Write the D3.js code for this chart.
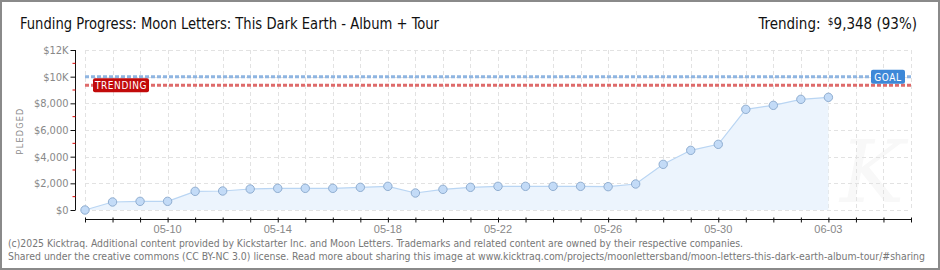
<!DOCTYPE html>
<html>
<head>
<meta charset="utf-8">
<script src="https://cdn.jsdelivr.net/npm/d3@7"></script>
<style>
  html, body { margin: 0; padding: 0; background: #fff; }
  svg { display: block; font-family: "DejaVu Sans Condensed", "DejaVu Sans", sans-serif; }
</style>
</head>
<body>
<div id="chart"></div>
<script>
// data
var days = ["2025-05-07","2025-05-08","2025-05-09","2025-05-10","2025-05-11","2025-05-12",
    "2025-05-13","2025-05-14","2025-05-15","2025-05-16","2025-05-17","2025-05-18","2025-05-19",
    "2025-05-20","2025-05-21","2025-05-22","2025-05-23","2025-05-24","2025-05-25","2025-05-26",
    "2025-05-27","2025-05-28","2025-05-29","2025-05-30","2025-05-31","2025-06-01","2025-06-02",
    "2025-06-03"];
var pledged = [0, 600, 650, 650, 1400, 1425, 1575, 1625, 1625, 1625, 1700, 1775, 1275,
    1550, 1700, 1775, 1775, 1775, 1775, 1750, 1950, 3425, 4475, 4925, 7550, 7850, 8300, 8450];
var goal = 10000;
var trending = 9348;
var yTicks = [0, 2000, 4000, 6000, 8000, 10000, 12000];
var yTickLabels = ["$0", "$2,000", "$4,000", "$6,000", "$8,000", "$10K", "$12K"];
var xDomain = ["2025-05-07", "2025-06-06"];

var W = 940, H = 270;
var m = { left: 85, right: 911, top: 50, bottom: 210 };
var parse = d3.utcParse("%Y-%m-%d");
var data = days.map(function (d, i) { return { date: parse(d), value: pledged[i] }; });

var x = d3.scaleUtc().domain(xDomain.map(parse)).range([m.left, m.right]);
var y = d3.scaleLinear().domain([0, 12000]).range([m.bottom, m.top]);

var svg = d3.select("#chart").append("svg").attr("width", W).attr("height", H);

// frame
svg.append("rect").attr("x", 1).attr("y", 1).attr("width", W - 2).attr("height", H - 2)
    .attr("fill", "#fff").attr("stroke", "#8a8a8a").attr("stroke-width", 2);

// watermark
svg.append("text").attr("x", 872).attr("y", 202).attr("text-anchor", "middle")
    .attr("font-family", "DejaVu Serif").attr("font-style", "italic")
    .attr("font-size", 86).attr("fill", "#f8f8f8").text("K");

// grid
var allDays = d3.utcDay.range(parse(xDomain[0]), d3.utcDay.offset(parse(xDomain[1]), 1));
var grid = svg.append("g").attr("stroke", "#e2e2e2").attr("stroke-dasharray", "4,3");
grid.selectAll("line.h").data(yTicks).join("line")
    .attr("x1", m.left).attr("x2", m.right)
    .attr("y1", function (d) { return Math.round(y(d)) + 0.5; })
    .attr("y2", function (d) { return Math.round(y(d)) + 0.5; });
grid.selectAll("line.v").data(allDays).join("line")
    .attr("x1", function (d) { return Math.round(x(d)) + 0.5; })
    .attr("x2", function (d) { return Math.round(x(d)) + 0.5; })
    .attr("y1", m.top).attr("y2", m.bottom);

// area + line
svg.append("path").datum(data)
    .attr("fill", "#ecf4fd")
    .attr("d", d3.area().x(function (d) { return x(d.date); }).y0(y(0)).y1(function (d) { return y(d.value); }));
svg.append("path").datum(data)
    .attr("fill", "none").attr("stroke", "#b9d5f3").attr("stroke-width", 1.2)
    .attr("d", d3.line().x(function (d) { return x(d.date); }).y(function (d) { return y(d.value); }));

// goal / trending lines
svg.append("line").attr("x1", m.left).attr("x2", m.right).attr("y1", y(goal)).attr("y2", y(goal))
    .attr("stroke", "#8fb5e1").attr("stroke-width", 3).attr("stroke-dasharray", "4,2");
svg.append("line").attr("x1", m.left).attr("x2", m.right).attr("y1", y(trending)).attr("y2", y(trending))
    .attr("stroke", "#de6b6b").attr("stroke-width", 3).attr("stroke-dasharray", "4,2");

// points
svg.append("g").selectAll("circle").data(data).join("circle")
    .attr("cx", function (d) { return x(d.date); })
    .attr("cy", function (d) { return y(d.value); })
    .attr("r", 4.2)
    .attr("fill", "#c3dbf7").attr("stroke", "#8fadd0").attr("stroke-width", 1);

// labels on lines
var tg = svg.append("g");
tg.append("rect").attr("x", 93).attr("y", y(trending) - 7).attr("width", 56).attr("height", 14)
    .attr("rx", 2).attr("fill", "#c20a0a");
tg.append("text").attr("x", 121).attr("y", y(trending) + 4).attr("text-anchor", "middle")
    .attr("fill", "#fff").attr("font-size", 10).attr("letter-spacing", 0.6).text("TRENDING");
var gg = svg.append("g");
gg.append("rect").attr("x", 871).attr("y", y(goal) - 7).attr("width", 34).attr("height", 14)
    .attr("rx", 2).attr("fill", "#3d88d8");
gg.append("text").attr("x", 888).attr("y", y(goal) + 4).attr("text-anchor", "middle")
    .attr("fill", "#fff").attr("font-size", 10).attr("letter-spacing", 0.6).text("GOAL");

// y axis
var yAxis = d3.axisLeft(y).tickValues(yTicks).tickSize(5)
    .tickFormat(function (d, i) { return yTickLabels[i]; });
var yg = svg.append("g").attr("transform", "translate(75.5,0)").call(yAxis);
yg.select(".domain").attr("stroke", "#111").attr("d", "M0," + m.top + "V" + m.bottom);
yg.selectAll(".tick line").attr("stroke", "#111");
yg.selectAll(".tick text").attr("fill", "#888").attr("font-size", 11)
    .attr("font-family", "DejaVu Sans Condensed").attr("x", -7);
yg.append("g").selectAll("line").data(d3.range(1000, 12000, 2000)).join("line")
    .attr("x1", -3).attr("x2", 0)
    .attr("y1", function (d) { return y(d); }).attr("y2", function (d) { return y(d); })
    .attr("stroke", "#e00000");

svg.append("text").attr("transform", "translate(23,131) rotate(-90)")
    .attr("text-anchor", "middle").attr("font-size", 9).attr("letter-spacing", 1.2)
    .attr("fill", "#888").text("PLEDGED");

// x axis
var xAxis = d3.axisBottom(x).tickValues(allDays).tickSize(0).tickFormat("");
var xg = svg.append("g").attr("transform", "translate(0,219.5)").call(xAxis);
xg.select(".domain").attr("stroke", "#111").attr("d", "M" + m.left + ",0H" + m.right);
xg.selectAll(".tick").append("line").attr("y1", -2).attr("y2", 3).attr("stroke", "#111");
var labelDays = allDays.filter(function (d, i) { return i >= 3 && i <= 27 && (i - 3) % 4 === 0; });
xg.selectAll("text.lbl").data(labelDays).join("text")
    .attr("x", function (d) { return x(d); }).attr("y", 13)
    .attr("text-anchor", "middle").attr("fill", "#888").attr("font-size", 11)
    .text(d3.utcFormat("%m-%d"));

// titles
svg.append("text").attr("x", 20).attr("y", 29).attr("font-size", 15).attr("fill", "#111")
    .attr("textLength", 419).attr("lengthAdjust", "spacingAndGlyphs")
    .text("Funding Progress: Moon Letters: This Dark Earth - Album + Tour");
var tr = svg.append("text").attr("x", 917).attr("y", 29).attr("text-anchor", "end")
    .attr("font-size", 15).attr("fill", "#111");
tr.append("tspan").text("Trending: ");
tr.append("tspan").attr("font-size", 10).attr("dy", -4).attr("dx", 3).text("$");
tr.append("tspan").attr("dy", 4).text("9,348 (93%)");

// footer
svg.append("text").attr("x", 8).attr("y", 247).attr("font-size", 10).attr("fill", "#777")
    .attr("textLength", 735).attr("lengthAdjust", "spacingAndGlyphs")
    .text("(c)2025 Kicktraq. Additional content provided by Kickstarter Inc. and Moon Letters. Trademarks and related content are owned by their respective companies.");
svg.append("text").attr("x", 8).attr("y", 260).attr("font-size", 10).attr("fill", "#777")
    .attr("textLength", 917).attr("lengthAdjust", "spacingAndGlyphs")
    .text("Shared under the creative commons (CC BY-NC 3.0) license. Read more about sharing this image at www.kicktraq.com/projects/moonlettersband/moon-letters-this-dark-earth-album-tour/#sharing");
</script>
</body>
</html>
